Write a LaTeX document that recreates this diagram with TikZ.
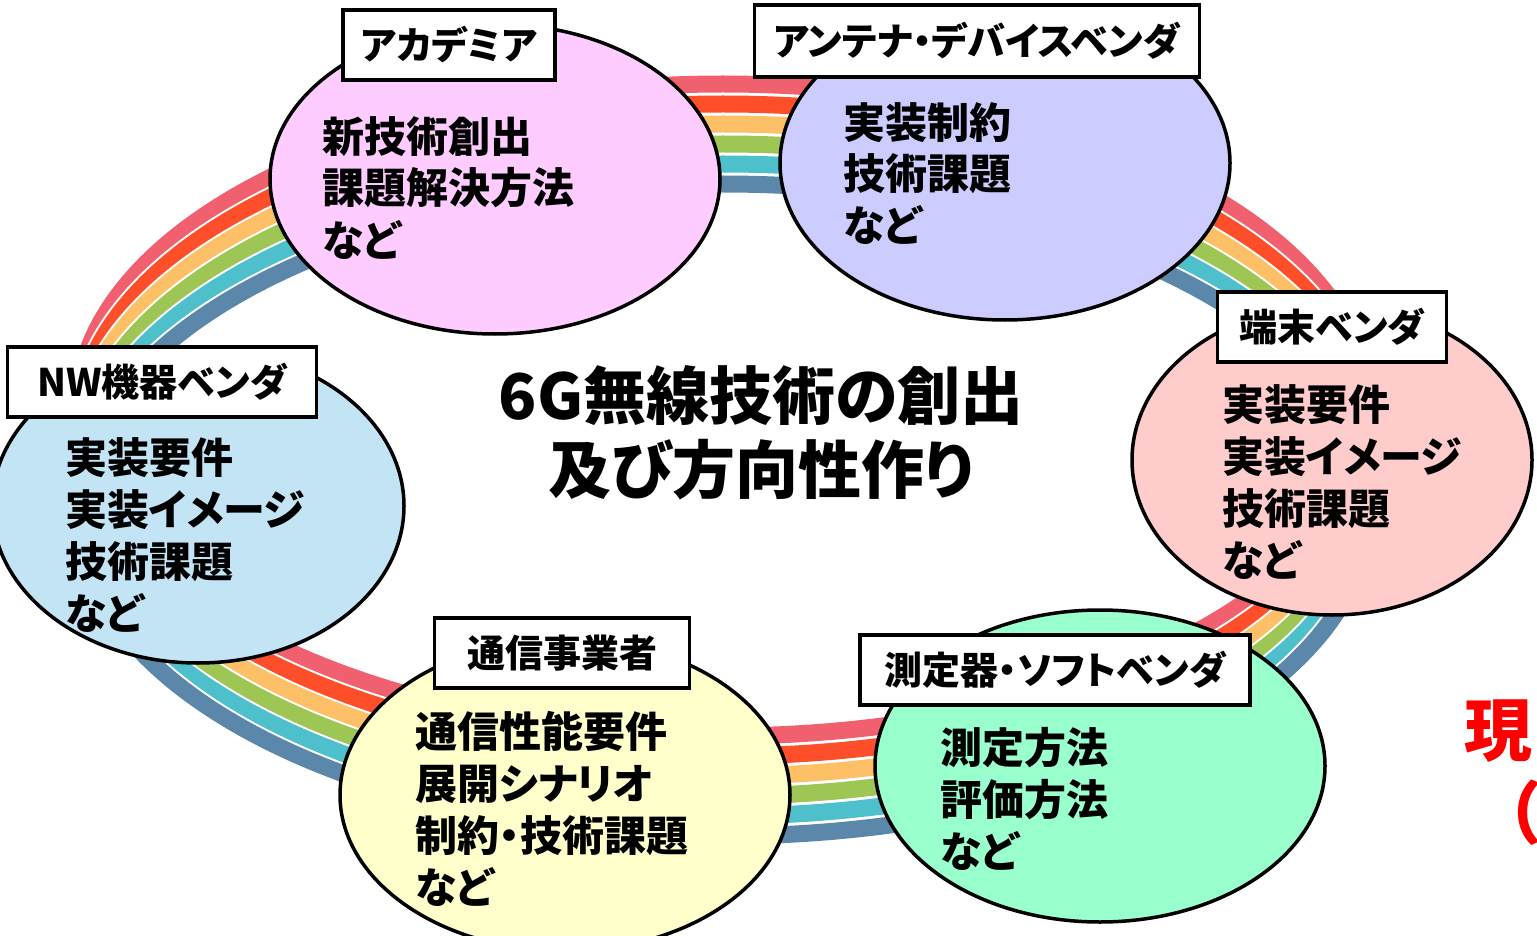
\documentclass[tikz,border=0pt]{standalone}
\usepackage{fontspec}
\setmainfont{Noto Sans CJK JP}[RawFeature=+palt]
\usetikzlibrary{shapes.geometric}
\definecolor{rA}{HTML}{F0606E}
\definecolor{rB}{HTML}{FF4F2A}
\definecolor{rC}{HTML}{FDC066}
\definecolor{rD}{HTML}{9DC655}
\definecolor{rE}{HTML}{4EC0CC}
\definecolor{rF}{HTML}{5A87AA}
\definecolor{cAcad}{HTML}{FFCCFF}
\definecolor{cAnt}{HTML}{CCCCFF}
\definecolor{cTerm}{HTML}{FFCCCC}
\definecolor{cNW}{HTML}{C3E4F5}
\definecolor{cOp}{HTML}{FFFFCC}
\definecolor{cMeas}{HTML}{99FFCC}
\tikzset{
  bub/.style={ellipse, draw=black, line width=3.5pt, inner sep=0pt},
  tagbox/.style={draw=black, line width=3.5pt, fill=white, inner sep=0pt,
    font=\fontsize{38}{38}\selectfont\bfseries},
  body/.style={anchor=base west, inner sep=0pt, align=left,
    font=\fontsize{42}{52}\selectfont\bfseries},
}
\begin{document}
\begin{tikzpicture}[x=1pt,y=-1pt]
\useasboundingbox (0,0) rectangle (1537,936);
\clip (0,0) rectangle (1537,936);
\fill[white] (0,0) rectangle (1537,936);
% rainbow ring
\foreach \c/\o in {rA/0,rB/20,rC/40,rD/60,rE/80,rF/100}{
  \draw[white, line width=21pt] (723,410+\o) ellipse [x radius=646, y radius=326];
  \draw[\c, line width=17pt] (723,410+\o) ellipse [x radius=646, y radius=326];
}
% bubbles
\node[bub, fill=cAcad, minimum width=450pt, minimum height=310pt] (acad) at (495,179) {};
\node[bub, fill=cAnt, minimum width=450pt, minimum height=314pt] (ant) at (1005,163) {};
\node[bub, fill=cTerm, minimum width=400pt, minimum height=310pt] (term) at (1332,460) {};
\node[bub, fill=cNW, minimum width=412pt, minimum height=314pt] (nw) at (198,506) {};
\node[bub, fill=cOp, minimum width=450pt, minimum height=312pt] (op) at (565,795) {};
\node[bub, fill=cMeas, minimum width=450pt, minimum height=312pt] (meas) at (1100,766) {};
% tags
\node[tagbox, minimum width=212pt, minimum height=70pt] (acadT) at (449,45) {アカデミア};
\node[tagbox, minimum width=445pt, minimum height=72pt] (antT) at (977,41) {アンテナ・デバイスベンダ};
\node[tagbox, minimum width=229pt, minimum height=70pt] (termT) at (1332,327) {端末ベンダ};
\node[tagbox, minimum width=309pt, minimum height=70pt] (nwT) at (162,382) {NW機器ベンダ};
\node[tagbox, minimum width=255pt, minimum height=70pt] (opT) at (562,653) {通信事業者};
\node[tagbox, minimum width=390pt, minimum height=70pt] (measT) at (1055,670) {測定器・ソフトベンダ};
% body texts (anchor = baseline of last line)
\node[body] (acadB) at (322,256) {新技術創出\\課題解決方法\\など};
\node[body] (antB) at (843,242) {実装制約\\技術課題\\など};
\node[body] (termB) at (1222,576) {実装要件\\実装イメージ\\技術課題\\など};
\node[body] (nwB) at (65,629) {実装要件\\実装イメージ\\技術課題\\など};
\node[body] (opB) at (415,903) {通信性能要件\\展開シナリオ\\制約・技術課題\\など};
\node[body] (measB) at (940,867) {測定方法\\評価方法\\など};
% title
\node[inner sep=0pt, align=center, font=\fontsize{63}{74}\selectfont\bfseries] (title) at (761,433) {6G無線技術の創出\\及び方向性作り};
% red text at right edge
\node[anchor=base west, inner sep=0pt, text=red, font=\fontsize{68}{68}\selectfont\bfseries] (gen) at (1464,755) {現};
\node[anchor=base west, inner sep=0pt, text=red, font=\fontsize{68}{68}\selectfont\bfseries] (paren) at (1505,838) {（};
\end{tikzpicture}
\end{document}
